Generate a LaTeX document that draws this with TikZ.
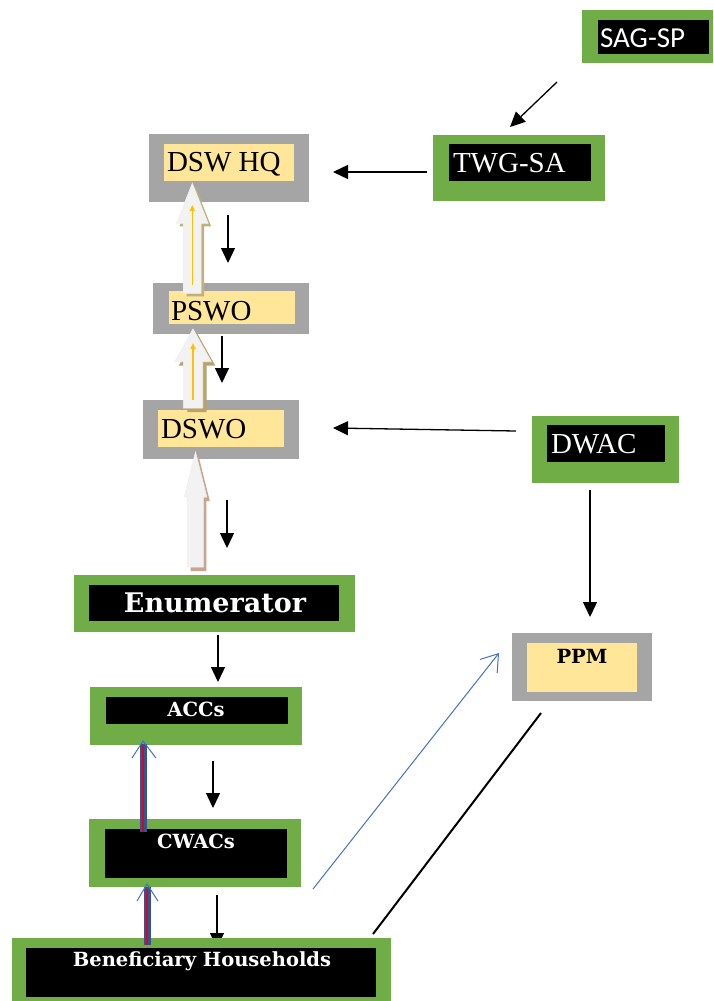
\documentclass[tikz,border=0pt]{standalone}
\usepackage{fontspec}
\setmainfont{Liberation Serif}
\newfontfamily\headfont{DejaVu Serif}
\newfontfamily\calfont{Carlito}
\usetikzlibrary{arrows.meta}

\definecolor{boxgreen}{HTML}{70AD47}
\definecolor{boxgray}{HTML}{A5A5A5}
\definecolor{boxyellow}{HTML}{FFE699}
\definecolor{linkblue}{HTML}{4472C4}
\definecolor{shaftblue}{HTML}{2F5597}
\definecolor{shaftred}{HTML}{E3001B}
\definecolor{blockfill}{HTML}{F2F2F2}
\definecolor{shadowA}{HTML}{C2B07C}
\definecolor{shadowB}{HTML}{B9A36C}
\definecolor{shadowC}{HTML}{C9A48E}
\definecolor{pointer}{HTML}{FFC000}

\tikzset{
  frame/.style={inner sep=0pt, outer sep=0pt},
  greenframe/.style={frame, fill=boxgreen},
  grayframe/.style={frame, fill=boxgray},
  darkpanel/.style={frame, fill=black},
  lightpanel/.style={frame, fill=boxyellow},
  sz/.style 2 args={minimum width=#1pt, minimum height=#2pt},
  lbl/.style={inner sep=0pt, outer sep=0pt},
  plainlbl/.style={lbl, anchor=base west, font=\fontsize{29}{31}\selectfont},
  boldlbl/.style={lbl, anchor=base, text=white, font=\headfont\bfseries},
  flow/.style={-{Triangle[width=14pt,length=15pt]}, line width=1.3pt, black},
  hollow/.style n args={6}{insert path={
    (#1,#2) -- (#1+#6,#3) -- (#1+#5,#3) -- (#1+#5,#4) --
    (#1-#5,#4) -- (#1-#5,#3) -- (#1-#6,#3) -- cycle}},
  blockbody/.style={fill=blockfill, draw=white!88!gray, line width=0.6pt},
  pointerline/.style={pointer, -{Triangle[width=5pt,length=6pt]}},
  redblue/.style={line width=7pt, shaftblue},
  redcore/.style={line width=2.6pt, shaftred},
  barb/.style={linkblue, line width=1pt},
}

\begin{document}
\begin{tikzpicture}[x=1pt, y=-1pt]
\useasboundingbox (0,0) rectangle (713,1001);
\fill[white] (0,0) rectangle (713,1001);

% ---------- connector end points ----------
\coordinate (s1) at (557,82);   \coordinate (e1) at (510,127);
\coordinate (s2) at (427,172);  \coordinate (e2) at (333,172);
\coordinate (s3) at (228,215);  \coordinate (e3) at (228,263);
\coordinate (s4) at (222,336);  \coordinate (e4) at (222,383);
\coordinate (s5) at (516,431);  \coordinate (e5) at (333,428);
\coordinate (s6) at (227,500);  \coordinate (e6) at (227,548);
\coordinate (s7) at (218,635);  \coordinate (e7) at (218,682);
\coordinate (s8) at (213,761);  \coordinate (e8) at (213,808);
\coordinate (s9) at (217,895);  \coordinate (e9) at (217,948);
\coordinate (s10) at (590,490); \coordinate (e10) at (590,617);
\coordinate (s11) at (541,713); \coordinate (e11) at (373,934);
\coordinate (s12) at (313,889); \coordinate (e12) at (499,653);

% ---------- plain connectors, drawn under the boxes ----------
\draw[flow] (s1) -- (e1);
\draw[flow] (s2) -- (e2);
\draw[flow] (s3) -- (e3);
\draw[flow] (s4) -- (e4);
\draw[flow] (s5) -- (e5);
\draw[flow] (s6) -- (e6);
\draw[flow] (s7) -- (e7);
\draw[flow] (s8) -- (e8);
\draw[flow] (s9) -- (e9);
\draw[flow] (s10) -- (e10);
\draw[line width=2pt] (s11) -- (e11);
\draw[linkblue, line width=1pt, -{Straight Barb[length=16pt,width=22pt,line width=1pt]}] (s12) -- (e12);

% ---------- boxes ----------
\node[greenframe, sz={131}{53}] (sagO) at (647.5,36.5) {};
\node[darkpanel, sz={111}{34}] (sag) at (653.5,37) {};
\node[plainlbl, text=white, font=\calfont\fontsize{29}{31}\selectfont] (sagT) at (600,47) {SAG-SP};

\node[greenframe, sz={172}{66}] (twgO) at (519,168) {};
\node[darkpanel, sz={142}{37}] (twg) at (520,162.5) {};
\node[plainlbl, text=white] (twgT) at (453,172) {TWG-SA};

\node[grayframe, sz={160}{68}] (hqO) at (229,168) {};
\node[lightpanel, sz={130}{37}] (hq) at (229,162.5) {};
\node[plainlbl] (hqT) at (167,171) {DSW HQ};

\node[grayframe, sz={156}{51}] (pswoO) at (231,308.5) {};
\node[lightpanel, sz={126}{33}] (pswo) at (232,307.5) {};
\node[plainlbl] (pswoT) at (171,320) {PSWO};

\node[grayframe, sz={156}{59}] (dswoO) at (221,429.5) {};
\node[lightpanel, sz={126}{37}] (dswo) at (221,428.5) {};
\node[plainlbl] (dswoT) at (161,438) {DSWO};

\node[greenframe, sz={147}{67}] (dwacO) at (605.5,449.5) {};
\node[darkpanel, sz={118}{37}] (dwac) at (606,443.5) {};
\node[plainlbl, text=white] (dwacT) at (551,453) {DWAC};

\node[greenframe, sz={281}{57}] (enumO) at (214.5,603.5) {};
\node[darkpanel, sz={250}{36}] (enum) at (214,603) {};
\node[boldlbl, font=\headfont\bfseries\fontsize{27}{30}\selectfont] (enumT) at (215,612) {Enumerator};

\node[greenframe, sz={212}{58}] (accO) at (196,716) {};
\node[darkpanel, sz={182}{27}] (acc) at (197,710.5) {};
\node[boldlbl, font=\headfont\bfseries\fontsize{19.5}{22}\selectfont] (accT) at (196,716) {ACCs};

\node[greenframe, sz={212}{68}] (cwacO) at (195,853) {};
\node[darkpanel, sz={182}{49}] (cwac) at (196,853.5) {};
\node[boldlbl, font=\headfont\bfseries\fontsize{19.5}{22}\selectfont] (cwacT) at (196,848) {CWACs};

\node[greenframe, sz={379}{70}] (benO) at (201.5,973) {};
\node[darkpanel, sz={350}{49}] (ben) at (201,972.5) {};
\node[boldlbl, font=\headfont\bfseries\fontsize{19.5}{22}\selectfont] (benT) at (202,966) {Beneficiary Households};

\node[grayframe, sz={140}{68}] (ppmO) at (582,667) {};
\node[lightpanel, sz={110}{49}] (ppm) at (582,667.5) {};
\node[boldlbl, text=black, font=\headfont\bfseries\fontsize{19.5}{22}\selectfont] (ppmT) at (582,663) {PPM};

% ---------- hollow upward block arrows ----------
\fill[shadowA, xshift=3pt, yshift=-3pt, hollow={192.3}{183.3}{223.3}{293.3}{8.8}{15.8}];
\path[blockbody, hollow={192.3}{183.3}{223.3}{293.3}{8.8}{15.8}];
\draw[pointerline, line width=1.2pt] (192.3,285) -- (192.3,205);

\fill[shadowB, xshift=4pt, yshift=-4pt, hollow={193}{329}{361.7}{408}{9.7}{18.3}];
\path[blockbody, hollow={193}{329}{361.7}{408}{9.7}{18.3}];
\draw[pointerline, line width=2pt] (193,400) -- (193,343);

\fill[shadowC, xshift=3pt, yshift=-4pt, hollow={195.5}{452}{497}{567}{7.8}{11.3}];
\path[blockbody, hollow={195.5}{452}{497}{567}{7.8}{11.3}];

% ---------- red and blue upward arrows ----------
\coordinate (rb1s) at (143,832); \coordinate (rb1t) at (143,741);
\draw[redblue] (rb1s) -- (143,744);
\draw[redcore] (rb1s) -- (143,746);
\draw[barb] (132,758) -- (rb1t) -- (156,758);

\coordinate (rb2s) at (147,945); \coordinate (rb2t) at (147,884);
\draw[redblue] (rb2s) -- (147,887);
\draw[redcore] (rb2s) -- (147,889);
\draw[barb] (137,901) -- (rb2t) -- (158,901);
\end{tikzpicture}
\end{document}
